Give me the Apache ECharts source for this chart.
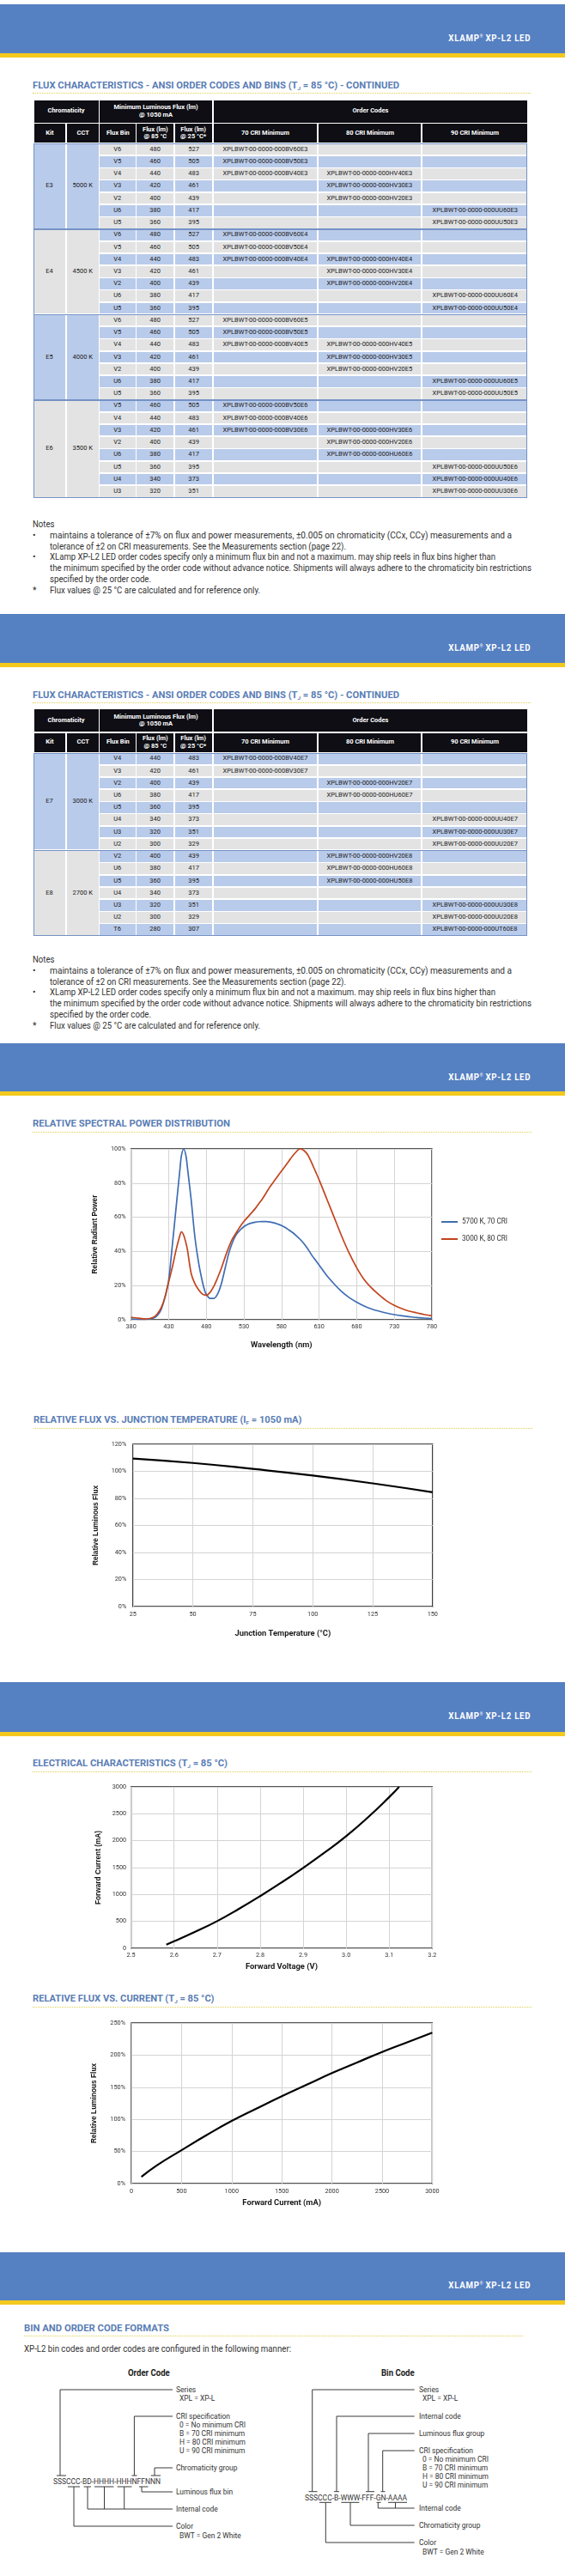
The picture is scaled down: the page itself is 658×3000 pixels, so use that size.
<!DOCTYPE html>
<html><head><meta charset="utf-8">
<script src="https://cdn.jsdelivr.net/npm/echarts@6/dist/echarts.min.js"></script>
<style>
body{margin:0;background:#fff;}
#page{position:relative;width:658px;height:3000px;overflow:hidden;font-family:Roboto,"Liberation Sans",sans-serif;color:#333;}
.banner{position:absolute;left:0;width:658px;background:#5580c2;}
.stripe{position:absolute;left:0;width:658px;height:5px;background:#f3c91d;}
.btext{position:absolute;right:40px;color:#fff;font-weight:bold;font-size:10.5px;letter-spacing:0.8px;line-height:12px;white-space:nowrap;transform-origin:100% 50%;}
.btext sup{font-size:5px;vertical-align:4px;letter-spacing:0;}
.title{position:absolute;color:#5a7db5;font-weight:bold;font-size:10.8px;line-height:12px;white-space:nowrap;transform-origin:0 50%;}
.title sub{font-size:6px;vertical-align:-2px;}
.dots{position:absolute;height:0;border-top:1px dotted #e0cf50;}
.cell{position:absolute;display:flex;align-items:center;justify-content:center;text-align:center;font-size:7.9px;line-height:8.6px;color:#1a1a1a;white-space:nowrap;}
.cell span{display:inline-block;transform-origin:50% 50%;}
.hd{color:#fff;font-weight:bold;font-size:8px;}
.gbox{position:absolute;border:1px solid #7592c6;box-sizing:border-box;pointer-events:none;}
.note{position:absolute;font-size:10.4px;line-height:12.8px;color:#333;white-space:nowrap;transform-origin:0 50%;}
.chart{position:absolute;left:0;width:658px;}
</style></head>
<body><div id="page"></div>
<script>
// ---------------- DATA ----------------
const fluxBinNames = ['V6','V5','V4','V3','V2','U6','U5','U4','U3','U2','T6'];
const flux85C = [480,460,440,420,400,380,360,340,320,300,280];
const flux25C = [527,505,483,461,439,417,395,373,351,329,307];
const table1Kits = ['E3','E4','E5','E6'];
const table1CCT = ['5000 K','4500 K','4000 K','3500 K'];
const table2Kits = ['E7','E8'];
const table2CCT = ['3000 K','2700 K'];
const binsE3toE5 = ['V6','V5','V4','V3','V2','U6','U5'];
const criE3toE5 = ['B','B','BH','H','H','U','U'];
const binsE6 = ['V5','V4','V3','V2','U6','U5','U4','U3'];
const criE6 = ['B','B','BH','H','H','U','U','U'];
const binsE7 = ['V4','V3','V2','U6','U5','U4','U3','U2'];
const criE7 = ['B','B','H','H','','U','U','U'];
const binsE8 = ['V2','U6','U5','U4','U3','U2','T6'];
const criE8 = ['H','H','H','','U','U','U'];

const wavelengthNm = [380,390,400,410,415,420,425,430,435,440,445,447,450,453,455,460,465,470,475,478,480,485,490,495,500,505,510,515,520,525,530,535,540,545,550,555,560,565,570,575,580,585,590,595,600,603,605,610,615,620,625,630,640,650,660,670,680,690,700,710,720,730,740,750,760,770,780];
const spd5700K = [0.5,0.3,0.3,1.0,2.5,6,13,23,44,66,88,96,100,96,89,70,48,33,22,17,15,12.5,12.5,15,21,30,39,45.5,50,52.5,54.5,55.8,56.6,57.1,57.4,57.5,57.5,57.2,56.7,56,55.2,54,52.5,51,49,47.8,47,44.5,41.5,38,35,32,26,21,16.5,13,10.3,8,6.3,5,3.9,3,2.3,1.8,1.3,1,0.7];
const spd3000K = [1.5,0.9,0.5,1.5,3.5,7,13,22,31,41,49.5,51.5,49.5,45,41,27,21,17.5,15,14.5,14.3,16,19.5,24.5,30,36.5,42.5,47.5,51,54.5,57.5,60,62.5,65,68,71,74.5,78,81,84,87,90,93,96,98.5,99.8,100,99,96.5,92,87,82,71,60,49,39,30.5,23.5,18.5,14.5,11,8.4,6.5,5,4,3,2.3];

const junctionTempC = [25,50,75,100,125,150];
const relFluxVsTemp = [109.5,106.2,101.8,96.9,91.1,84.5];

const forwardVoltageV = [2.582,2.6,2.65,2.7,2.75,2.8,2.85,2.9,2.95,3.0,3.05,3.1,3.123];
const forwardCurrentmA = [69,130,310,505,730,970,1225,1495,1780,2085,2430,2810,3000];

const driveCurrentmA = [100,250,500,750,1000,1250,1500,1750,2000,2250,2500,2750,3000];
const relFluxVsCurrent = [10.5,28,52,75.5,97.5,117,136,154,172,188.5,205,220,235];

// ---------------- PAGE ----------------
const page = document.getElementById('page');
function el(tag, cls, css, html){const d=document.createElement(tag); if(cls) d.className=cls; Object.assign(d.style, css||{}); if(html!==undefined) d.innerHTML=html; page.appendChild(d); return d;}
function px(v){return v+'px';}
function fit(d, target){const w=d.getBoundingClientRect().width; if(w>0) d.style.transform='scaleX('+(target/w)+')';}
const mctx=document.createElement('canvas').getContext('2d');
function mw(text, font){mctx.font=font; return mctx.measureText(text).width;}

// banners
[[5,57,42],[715,57,752],[1215,56,1252],[1959,58,1996],[2623,56,2659]].forEach(b=>{
  el('div','banner',{top:px(b[0]),height:px(b[1])});
  el('div','stripe',{top:px(b[0]+b[1])});
  fit(el('div','btext',{top:px(b[2]-6)},'XLAMP<sup>®</sup> XP-L2 LED'),96);
});

// titles
function title(yc, x0, x1, dy, w, html){
  fit(el('div','title',{left:px(x0),top:px(yc-6.5)},html),w);
  el('div','dots',{left:px(x0),top:px(yc+dy),width:px(x1-x0)});
}
title(100,38,618,8,427,'FLUX CHARACTERISTICS - ANSI ORDER CODES AND BINS (T<sub>J</sub> = 85 °C) - CONTINUED');
title(810,38,618,8,427,'FLUX CHARACTERISTICS - ANSI ORDER CODES AND BINS (T<sub>J</sub> = 85 °C) - CONTINUED');
title(1309,38,619,9,230,'RELATIVE SPECTRAL POWER DISTRIBUTION');
title(1654,39,620,9,312.5,'RELATIVE FLUX VS. JUNCTION TEMPERATURE (I<sub>F</sub> = 1050 mA)');
title(2054,38,619,9,227,'ELECTRICAL CHARACTERISTICS (T<sub>J</sub> = 85 °C)');
title(2328,38,619,9,211.5,'RELATIVE FLUX VS. CURRENT (T<sub>J</sub> = 85 °C)');
title(2712,28,609,8,169,'BIN AND ORDER CODE FORMATS');

// tables
const BLUE='#b9cbea', GRAY='#e3e3e3', HEAD='#0e0e14';
const COLX=[38.7,77,115.6,158.5,202.7,247.7,370,491,614.5];
const G=0.8;
const kBody=99/mw('XPLBWT-00-0000-000BV60E3','7.9px Roboto');
const kHead=56/mw('70 CRI Minimum','bold 8px Roboto');
function cell(x0,x1,y0,y1,bg,html,cls){
  const k=cls==='hd'?kHead:kBody;
  el('div','cell'+(cls?' '+cls:''),{left:px(x0+G),top:px(y0+G),width:px(x1-x0-2*G),height:px(y1-y0-2*G),background:bg},
    html?'<span style="transform:scaleX('+k+')">'+html+'</span>':'');
}
function buildTable(top, kits, ccts, binsList, criList, firstRowBlue){
  const h1=27.5,h2=23.5,rh=14.22;
  const y1=top,y2=top+h1,y3=y2+h2;
  cell(COLX[0],COLX[2],y1,y2,HEAD,'Chromaticity','hd');
  cell(COLX[2],COLX[5],y1,y2,HEAD,'Minimum Luminous Flux (lm)<br>@ 1050 mA','hd');
  cell(COLX[5],COLX[8],y1,y2,HEAD,'Order Codes','hd');
  ['Kit','CCT','Flux Bin','Flux (lm)<br>@ 85 °C','Flux (lm)<br>@ 25 °C*','70 CRI Minimum','80 CRI Minimum','90 CRI Minimum']
    .forEach((t,i)=>cell(COLX[i],COLX[i+1],y2,y3,HEAD,t,'hd'));
  let r=0,y=y3;
  kits.forEach((kit,k)=>{
    const bins=binsList[k],cri=criList[k];
    const gy0=y,gy1=y+bins.length*rh;
    const gbg=(k%2===0)?BLUE:GRAY;
    cell(COLX[0],COLX[1],gy0,gy1,gbg,kit);
    cell(COLX[1],COLX[2],gy0,gy1,gbg,ccts[k]);
    bins.forEach((bin,j)=>{
      const bi=fluxBinNames.indexOf(bin);
      const bg=((r%2===0)===firstRowBlue)?BLUE:GRAY;
      const ry0=y+j*rh,ry1=ry0+rh;
      cell(COLX[2],COLX[3],ry0,ry1,bg,bin);
      cell(COLX[3],COLX[4],ry0,ry1,bg,String(flux85C[bi]));
      cell(COLX[4],COLX[5],ry0,ry1,bg,String(flux25C[bi]));
      ['B','H','U'].forEach((c,ci)=>{
        const txt=cri[j].indexOf(c)>=0?('XPLBWT-00-0000-000'+c+bin+'0'+kit):'';
        cell(COLX[5+ci],COLX[6+ci],ry0,ry1,bg,txt);
      });
      r++;
    });
    el('div','gbox',{left:px(COLX[0]),top:px(gy0),width:px(COLX[8]-COLX[0]),height:px(gy1-gy0+0.5)});
    y=gy1;
  });
}
buildTable(116,table1Kits,table1CCT,[binsE3toE5,binsE3toE5,binsE3toE5,binsE6],[criE3toE5,criE3toE5,criE3toE5,criE6],false);
buildTable(825.5,table2Kits,table2CCT,[binsE7,binsE8],[criE7,criE8],true);

// notes
function notes(yc){
  fit(el('div','note',{left:px(38),top:px(yc-6.4)},'Notes'),25.5);
  const L=[
    ['•','maintains a tolerance of ±7% on flux and power measurements, ±0.005 on chromaticity (CCx, CCy) measurements and a',538],
    ['','tolerance of ±2 on CRI measurements. See the Measurements section (page 22).',345],
    ['•','XLamp XP-L2 LED order codes specify only a minimum flux bin and not a maximum. may ship reels in flux bins higher than',519],
    ['','the minimum specified by the order code without advance notice. Shipments will always adhere to the chromaticity bin restrictions',561],
    ['','specified by the order code.',118],
    ['*','Flux values @ 25 °C are calculated and for reference only.',245]];
  const ys=[13,26,38.7,51.5,64.3,77];
  L.forEach((l,i)=>{
    const t=yc+ys[i]-6.4;
    if(l[0]) el('div','note',{left:px(38),top:px(t)},l[0]);
    fit(el('div','note',{left:px(57.6),top:px(t)},l[1]),l[2]);
  });
}
notes(611);
notes(1118);

fit(el('div','note',{left:px(28),top:px(2736-6.4)},'XP-L2 bin codes and order codes are configured in the following manner:'),311);
const oc=el('div','note',{left:px(148.9),top:px(2764-6.4),fontWeight:'bold',color:'#222'},'Order Code'); fit(oc,48.8);
const bc=el('div','note',{left:px(444),top:px(2764-6.4),fontWeight:'bold',color:'#222'},'Bin Code'); fit(bc,38.7);

// code format diagrams (SVG)
const paths=[
 'M70,2883V2783H201','M66,2883H77',
 'M156.4,2883V2814H201','M153.5,2883H159.5',
 'M180,2883V2874H201','M175.8,2883H187',
 'M165,2896V2902H201','M162,2896H172.5',
 'M102,2896V2922H201','M121.5,2896V2922','M144.7,2896V2922','M97.6,2896H106','M110,2896H132.5','M136.7,2896H153.5',
 'M86,2896V2942H201','M79,2896H93',
 'M363.7,2901.7V2783H482.7','M359.5,2901.7H369.5',
 'M392,2901.7V2814H482.7','M389,2901.7H395',
 'M429,2901.7V2834H482.7','M426,2901.7H436',
 'M445.7,2901.7V2854H482.7','M443.5,2901.7H448.5',
 'M440.3,2914.3V2921H482.7','M460.5,2914.3V2921','M438.5,2914.3H443.5','M452,2914.3H474',
 'M408,2914.3V2941H482.7','M397.4,2914.3H418.4',
 'M379.3,2914.3V2961H482.7','M372,2914.3H386'
];
const labels=[
 [205,2783,'Series'],[209,2793,'XPL = XP-L'],[205,2814,'CRI specification'],[209,2824,'0 = No minimum CRI'],[209,2834,'B = 70 CRI minimum'],[209,2844,'H = 80 CRI minimum'],[209,2854,'U = 90 CRI minimum'],
 [205,2874,'Chromaticity group'],[205,2902,'Luminous flux bin'],[205,2922,'Internal code'],[205,2942,'Color'],[209,2953,'BWT = Gen 2 White'],
 [488,2783,'Series'],[492,2793,'XPL = XP-L'],[488,2814,'Internal code'],[488,2834,'Luminous flux group'],[488,2854,'CRI specification'],[492,2864,'0 = No minimum CRI'],[492,2874,'B = 70 CRI minimum'],[492,2884,'H = 80 CRI minimum'],[492,2894,'U = 90 CRI minimum'],
 [488,2921,'Internal code'],[488,2941,'Chromaticity group'],[488,2961,'Color'],[492,2972,'BWT = Gen 2 White']
];
const kLab=77/mw('0 = No minimum CRI','9.4px Roboto');
let svg='<svg xmlns="http://www.w3.org/2000/svg" width="658" height="260" style="position:absolute;left:0;top:2740px"><g transform="translate(0,-2740)" font-family="Roboto, Liberation Sans, sans-serif" fill="#333">';
paths.forEach(p=>svg+='<path d="'+p+'" stroke="#3a3a3a" stroke-width="1" fill="none"/>');
labels.forEach(l=>svg+='<text x="'+l[0]+'" y="'+(l[1]+3.4)+'" font-size="9.4" textLength="'+(mw(l[2],'9.4px Roboto')*kLab).toFixed(1)+'" lengthAdjust="spacingAndGlyphs">'+l[2]+'</text>');
svg+='<text x="62" y="2893.4" font-size="8.8" textLength="125" lengthAdjust="spacingAndGlyphs">SSSCCC-BD-HHHH-HHHNFFNNN</text>';
svg+='<text x="355" y="2911.6" font-size="8.8" textLength="119" lengthAdjust="spacingAndGlyphs">SSSCCC-B-WWW-FFF-GN-AAAA</text>';
svg+='</g></svg>';
page.insertAdjacentHTML('beforeend',svg);

// ---------------- CHARTS ----------------
const FN='Roboto,"Liberation Sans",sans-serif';
const FB='"Liberation Sans",Arial,sans-serif';
function makeChart(top,height,o){
  const d=el('div','chart',{top:px(top),height:px(height)});
  const c=echarts.init(d,null,{renderer:'canvas'});
  c.setOption({
    animation:false,
    legend:o.legend||{show:false},
    grid:Object.assign({show:true,borderColor:'#1e1e1e',borderWidth:1.3,backgroundColor:'#fff',containLabel:false},o.grid),
    xAxis:{type:'value',min:o.x[0],max:o.x[1],interval:o.x[2],name:o.xName,nameLocation:'middle',nameGap:o.xNameGap,
      nameTextStyle:{fontFamily:FN,fontWeight:'bold',fontSize:9.4,color:'#1a1a1a'},
      axisLine:{show:false},axisTick:{show:false},splitLine:{show:true,lineStyle:{color:'#d4d4d4',width:1}},
      axisLabel:{margin:o.xLabMargin,fontFamily:FN,fontSize:7.3,color:'#333',formatter:o.xFmt||(v=>String(v)),showMinLabel:true,showMaxLabel:true}},
    yAxis:{type:'value',min:o.y[0],max:o.y[1],interval:o.y[2],name:o.yName,nameLocation:'middle',nameGap:o.yNameGap,
      nameTextStyle:{fontFamily:FB,fontWeight:'bold',fontSize:8.3,color:'#111'},
      axisLine:{show:false},axisTick:{show:false},splitLine:{show:true,lineStyle:{color:'#d4d4d4',width:1}},
      axisLabel:{margin:o.yLabMargin,fontFamily:FN,fontSize:7.3,color:'#333',formatter:o.yFmt||(v=>String(v))}},
    series:o.series
  });
}
const pct=v=>v+'%';

makeChart(1325,260,{
  grid:{left:152.6,top:13,width:350.4,height:199},
  x:[0,400,50],xFmt:v=>String(v+380),xName:'Wavelength (nm)',xNameGap:25,xLabMargin:5,
  y:[0,100,20],yFmt:pct,yName:'Relative Radiant Power',yNameGap:37.5,yLabMargin:6,
  legend:{show:true,orient:'vertical',left:514,top:94,itemWidth:19,itemHeight:2,itemGap:12,icon:'rect',padding:0,
    textStyle:{fontFamily:FN,fontSize:8.2,color:'#333'}},
  series:[
    {name:'5700 K, 70 CRI',type:'line',showSymbol:false,smooth:0.3,lineStyle:{color:'#3e6db3',width:1.7},itemStyle:{color:'#3e6db3'},
      data:wavelengthNm.map((w,i)=>[w-380,spd5700K[i]])},
    {name:'3000 K, 80 CRI',type:'line',showSymbol:false,smooth:0.3,lineStyle:{color:'#c2441e',width:1.7},itemStyle:{color:'#c2441e'},
      data:wavelengthNm.map((w,i)=>[w-380,spd3000K[i]])}
  ]
});

makeChart(1670,250,{
  grid:{left:154.8,top:12,width:349,height:189},
  x:[25,150,25],xName:'Junction Temperature (°C)',xNameGap:27,xLabMargin:6,
  y:[0,120,20],yFmt:pct,yName:'Relative Luminous Flux',yNameGap:38.8,yLabMargin:7.5,
  series:[{type:'line',showSymbol:false,smooth:true,lineStyle:{color:'#000',width:2.2},
    data:junctionTempC.map((t,i)=>[t,relFluxVsTemp[i]])}]
});

makeChart(2070,235,{
  grid:{left:152.6,top:11,width:350.8,height:188},
  x:[2.5,3.2,0.1],xFmt:v=>v.toFixed(1),xName:'Forward Voltage (V)',xNameGap:17,xLabMargin:5,
  y:[0,3000,500],yName:'Forward Current (mA)',yNameGap:34,yLabMargin:5.5,
  series:[{type:'line',showSymbol:false,smooth:true,lineStyle:{color:'#000',width:2.2},
    data:forwardVoltageV.map((v,i)=>[v,forwardCurrentmA[i]])}]
});

makeChart(2345,235,{
  grid:{left:153,top:11,width:350.4,height:187},
  x:[0,3000,500],xName:'Forward Current (mA)',xNameGap:18,xLabMargin:6,
  y:[0,250,50],yFmt:pct,yName:'Relative Luminous Flux',yNameGap:39.5,yLabMargin:7,
  series:[{type:'line',showSymbol:false,smooth:true,lineStyle:{color:'#000',width:2.2},
    data:driveCurrentmA.map((c,i)=>[c,relFluxVsCurrent[i]])}]
});
</script>
</body></html>
